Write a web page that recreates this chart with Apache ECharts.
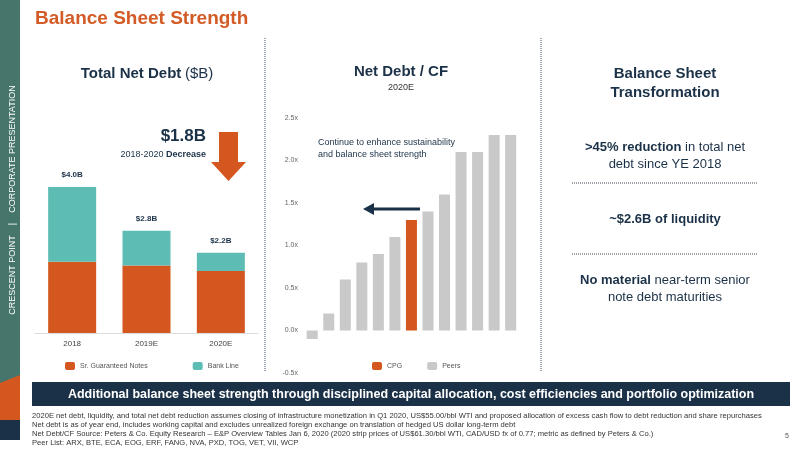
<!DOCTYPE html>
<html><head><meta charset="utf-8">
<script src="https://cdn.jsdelivr.net/npm/echarts@6/dist/echarts.min.js"></script>
<style>html,body{margin:0;padding:0;background:#fff}#c{width:800px;height:450px}</style>
</head><body><div id="c"></div>
<script>
// left chart data
var debtYears = ['2018', '2019E', '2020E'];
var seniorNotes = [1.95, 1.85, 1.7];
var bankLine = [2.05, 0.95, 0.5];
var debtTotals = ['$4.0B', '$2.8B', '$2.2B'];
// middle chart data
var peerNames = ['p1', 'p2', 'p3', 'p4', 'p5', 'p6', 'CPG', 'p8', 'p9', 'p10', 'p11', 'p12', 'p13'];
var debtToCf = [-0.1, 0.2, 0.6, 0.8, 0.9, 1.1, 1.3, 1.4, 1.6, 2.1, 2.1, 2.3, 2.3];
var cpgIndex = 6;

var ORANGE = '#D4571F', TEAL = '#5DBDB5', NAVY = '#1B3147', GREY = '#C9C9C9';
var FONT = 'Liberation Sans, Arial, sans-serif';

var chart = echarts.init(document.getElementById('c'));

function txt(x, y, rich, text, align) {
    return {type: 'text', x: x, y: y, style: {text: text, rich: rich, fontFamily: FONT, fontSize: 13,
        align: align || 'center', textAlign: align || 'center', fill: NAVY}};
}
function mkRich(size) {
    return {
        b: {fontFamily: FONT, fontWeight: 'bold', fontSize: size, fill: NAVY, lineHeight: size + 4},
        n: {fontFamily: FONT, fontSize: size, fill: NAVY, lineHeight: size + 4}
    };
}
var rich = mkRich(13);

var option = {
    animation: false,
    textStyle: {fontFamily: FONT},
    grid: [
        {left: 35, width: 223, top: 150.5, height: 182.5},
        {left: 305, width: 215, top: 118, height: 255}
    ],
    legend: [
        {data: ['Sr. Guaranteed Notes', 'Bank Line'], left: 60, top: 357, itemWidth: 10, itemHeight: 8, itemGap: 45,
            textStyle: {fontSize: 7, color: '#555'}},
        {data: ['CPG', 'Peers'], left: 367, top: 357, itemWidth: 10, itemHeight: 8, itemGap: 25,
            textStyle: {fontSize: 7, color: '#555'}}
    ],
    xAxis: [
        {gridIndex: 0, type: 'category', data: debtYears, axisTick: {show: false},
            axisLine: {lineStyle: {color: '#ddd'}}, axisLabel: {fontSize: 8, color: '#444', margin: 7}},
        {gridIndex: 1, type: 'category', data: peerNames, show: false}
    ],
    yAxis: [
        {gridIndex: 0, type: 'value', min: 0, max: 5, show: false},
        {gridIndex: 1, type: 'value', min: -0.5, max: 2.5, interval: 0.5, splitLine: {show: false},
            axisLine: {show: false}, axisTick: {show: false},
            axisLabel: {fontSize: 7, color: '#666', margin: 7, formatter: function (v) { return v.toFixed(1) + 'x'; }}}
    ],
    series: [
        {name: 'Sr. Guaranteed Notes', type: 'bar', stack: 'd', xAxisIndex: 0, yAxisIndex: 0, barWidth: 48,
            itemStyle: {color: ORANGE}, data: seniorNotes},
        {name: 'Bank Line', type: 'bar', stack: 'd', xAxisIndex: 0, yAxisIndex: 0, barWidth: 48,
            itemStyle: {color: TEAL}, data: bankLine,
            label: {show: true, position: 'top', distance: 8, fontSize: 8, fontWeight: 'bold', color: NAVY,
                formatter: function (p) { return debtTotals[p.dataIndex]; }}},
        {name: 'Peers', type: 'bar', xAxisIndex: 1, yAxisIndex: 1, barWidth: 11, itemStyle: {color: GREY},
            data: debtToCf.map(function (v, i) {
                return i === cpgIndex ? {value: v, itemStyle: {color: ORANGE}} : v;
            })},
        {name: 'CPG', type: 'bar', xAxisIndex: 1, yAxisIndex: 1, itemStyle: {color: ORANGE}, data: []}
    ],
    graphic: [
        // side strip
        {type: 'rect', shape: {x: 0, y: 0, width: 20, height: 440}, style: {fill: '#1B3147'}},
        {type: 'polygon', shape: {points: [[0, 0], [20, 0], [20, 420], [0, 420]]}, style: {fill: ORANGE}},
        {type: 'polygon', shape: {points: [[0, 0], [20, 0], [20, 375], [0, 383]]}, style: {fill: '#46756B'}},
        {type: 'text', x: 13, y: 200, rotation: Math.PI / 2, style: {text: 'CRESCENT POINT    |    CORPORATE PRESENTATION',
            font: '9px ' + FONT, fill: '#fff', textAlign: 'center', textVerticalAlign: 'middle'}},
        // title
        {type: 'text', x: 35, y: 9, style: {text: 'Balance Sheet Strength', font: 'bold 19px ' + FONT, fill: '#D35B26'}},
        // separators
        {type: 'line', shape: {x1: 265, y1: 38, x2: 265, y2: 372}, style: {stroke: '#3a5068', lineDash: [1, 1], lineWidth: 1}},
        {type: 'line', shape: {x1: 541, y1: 38, x2: 541, y2: 372}, style: {stroke: '#3a5068', lineDash: [1, 1], lineWidth: 1}},
        // panel titles
        txt(147, 64, mkRich(15), '{b|Total Net Debt} {n|($B)}'),
        {type: 'text', x: 401, y: 64, style: {text: 'Net Debt / CF', font: 'bold 15px ' + FONT, fill: NAVY, textAlign: 'center'}},
        {type: 'text', x: 401, y: 83, style: {text: '2020E', font: '9px ' + FONT, fill: '#333', textAlign: 'center'}},
        {type: 'text', x: 665, y: 64, style: {text: 'Balance Sheet\nTransformation', font: 'bold 15px ' + FONT, lineHeight: 19, fill: NAVY, textAlign: 'center'}},
        // left annotation
        {type: 'text', x: 206, y: 128, style: {text: '$1.8B', font: 'bold 17px ' + FONT, fill: NAVY, textAlign: 'right'}},
        txt(206, 148, mkRich(9), '{n|2018-2020 }{b|Decrease}', 'right'),
        {type: 'polygon', shape: {points: [[219, 132], [238, 132], [238, 162], [246, 162], [228.5, 181], [211, 162], [219, 162]]},
            style: {fill: ORANGE}},
        // middle annotation
        {type: 'text', x: 318, y: 137, style: {text: 'Continue to enhance sustainability\nand balance sheet strength',
            font: '9px ' + FONT, lineHeight: 12, fill: NAVY}},
        {type: 'line', shape: {x1: 420, y1: 209, x2: 372, y2: 209}, style: {stroke: NAVY, lineWidth: 3}},
        {type: 'polygon', shape: {points: [[363, 209], [374, 203], [374, 215]]}, style: {fill: NAVY}},
        // right panel
        txt(665, 139, rich, '{b|>45% reduction}{n| in total net}\n{n|debt since YE 2018}'),
        {type: 'line', shape: {x1: 572, y1: 183, x2: 758, y2: 183}, style: {stroke: '#445', lineDash: [1, 1]}},
        txt(665, 211, rich, '{b|~$2.6B of liquidity}'),
        {type: 'line', shape: {x1: 572, y1: 254, x2: 758, y2: 254}, style: {stroke: '#445', lineDash: [1, 1]}},
        txt(665, 272, rich, '{b|No material}{n| near-term senior}\n{n|note debt maturities}'),
        // banner
        {type: 'rect', shape: {x: 32, y: 382, width: 758, height: 24}, style: {fill: NAVY}},
        {type: 'text', x: 411, y: 388, style: {text: 'Additional balance sheet strength through disciplined capital allocation, cost efficiencies and portfolio optimization',
            font: 'bold 12.5px ' + FONT, fill: '#fff', textAlign: 'center'}},
        {type: 'text', x: 32, y: 411, style: {text:
            '2020E net debt, liquidity, and total net debt reduction assumes closing of infrastructure monetization in Q1 2020, US$55.00/bbl WTI and proposed allocation of excess cash flow to debt reduction and share repurchases\n' +
            'Net debt is as of year end, includes working capital and excludes unrealized foreign exchange on translation of hedged US dollar long-term debt\n' +
            'Net Debt/CF Source: Peters & Co. Equity Research \u2013 E&P Overview Tables Jan 6, 2020 (2020 strip prices of US$61.30/bbl WTI, CAD/USD fx of 0.77; metric as defined by Peters & Co.)\n' +
            'Peer List: ARX, BTE, ECA, EOG, ERF, FANG, NVA, PXD, TOG, VET, VII, WCP',
            font: '7.6px ' + FONT, lineHeight: 9, fill: '#333'}},
        {type: 'text', x: 785, y: 433, style: {text: '5', font: '7px ' + FONT, fill: '#555'}}
    ]
};
chart.setOption(option);
</script>
</body></html>
